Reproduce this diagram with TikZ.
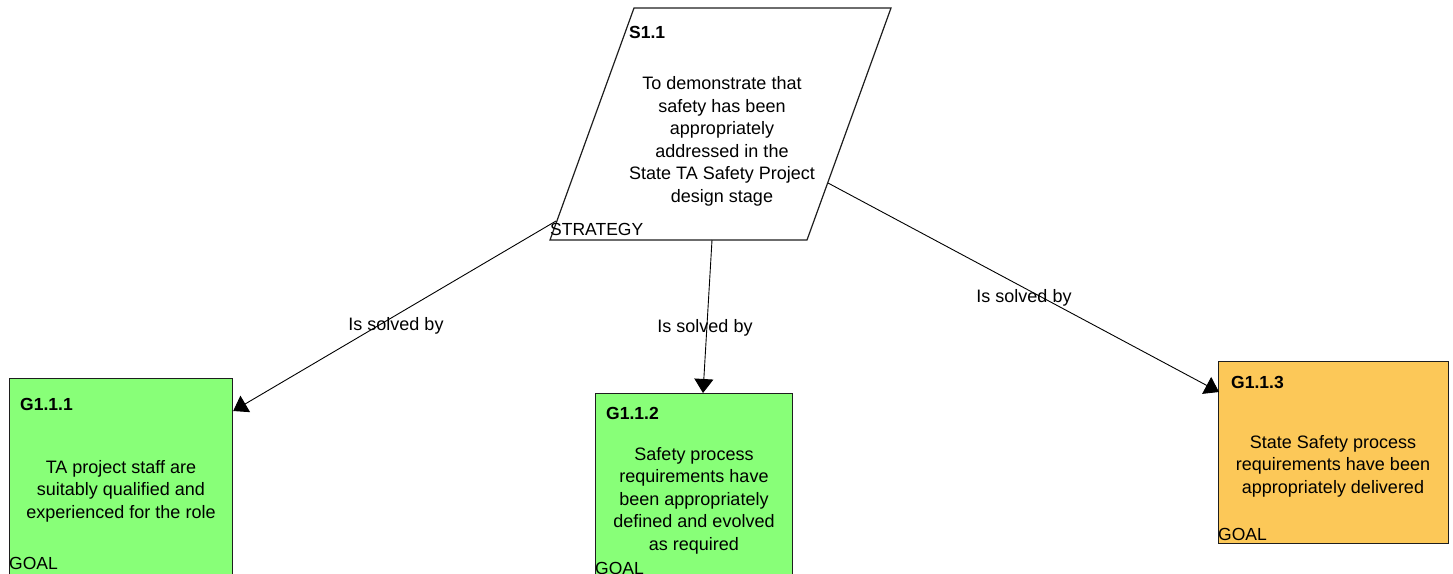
\documentclass[tikz,border=0pt]{standalone}
\usepackage{fontspec}
\setmainfont{Liberation Sans}
\usetikzlibrary{arrows.meta}
\definecolor{goalgreen}{RGB}{136,255,120}
\definecolor{goalorange}{RGB}{252,200,88}
\definecolor{edgegray}{RGB}{30,30,30}
\begin{document}
\begin{tikzpicture}[x=1pt,y=-1pt,
  txt/.style={font=\fontsize{18}{22.5}\selectfont, inner sep=0pt, text=black},
  idtxt/.style={txt, font=\fontsize{17.5}{22.5}\selectfont\bfseries, anchor=base west},
  kindtxt/.style={txt, font=\fontsize{17.5}{22.5}\selectfont, anchor=base west},
  bodytxt/.style={txt, align=center},
  goalbox/.style={draw=edgegray, line width=1.2pt, anchor=north west, inner sep=0pt},
  solves/.style={draw=black, line width=0.9pt, -{Triangle[length=14pt,width=19pt]}},
  edgelabel/.style={txt}
]
\useasboundingbox (0,0) rectangle (1453,573);

% strategy parallelogram
\draw[edgegray, line width=1.2pt, fill=white]
  (634,8) -- (891,8) -- (807,240) -- (550,240) -- cycle;
\node[idtxt] (s11id) at (629,38) {S1.1};
\node[bodytxt] (s11body) at (722,141.5) {To demonstrate that\\safety has been\\appropriately\\addressed in the\\State TA Safety Project\\design stage};
\node[kindtxt] (s11kind) at (550,235.5) {STRATEGY};
\coordinate (s11left) at (556,221);
\coordinate (s11bottom) at (712,240);
\coordinate (s11right) at (828,183);

% goals
\node[goalbox, fill=goalgreen, minimum width=223pt, minimum height=210pt] (g111) at (9,378) {};
\node[idtxt] (g111id) at (20,410.5) {G1.1.1};
\node[bodytxt] (g111body) at (121,491) {TA project staff are\\suitably qualified and\\experienced for the role};
\node[kindtxt] (g111kind) at (9,569.5) {GOAL};

\node[goalbox, fill=goalgreen, minimum width=197pt, minimum height=200pt] (g112) at (595,393) {};
\node[idtxt] (g112id) at (606,419.5) {G1.1.2};
\node[bodytxt] (g112body) at (694,500.5) {Safety process\\requirements have\\been appropriately\\defined and evolved\\as required};
\node[kindtxt] (g112kind) at (595,574) {GOAL};

\node[goalbox, fill=goalorange, minimum width=230pt, minimum height=182pt] (g113) at (1218,361) {};
\node[idtxt] (g113id) at (1231,388.5) {G1.1.3};
\node[bodytxt] (g113body) at (1333,466) {State Safety process\\requirements have been\\appropriately delivered};
\node[kindtxt] (g113kind) at (1218,540) {GOAL};

% solution links
\draw[solves] (s11left) -- (g111.north east |- 0,411);
\draw[solves] (s11bottom) -- (703,393);
\draw[solves] (s11right) -- (1219,392);

\node[edgelabel] (l1) at (396,326) {Is solved by};
\node[edgelabel] (l2) at (705,328) {Is solved by};
\node[edgelabel] (l3) at (1024,298) {Is solved by};
\end{tikzpicture}
\end{document}
